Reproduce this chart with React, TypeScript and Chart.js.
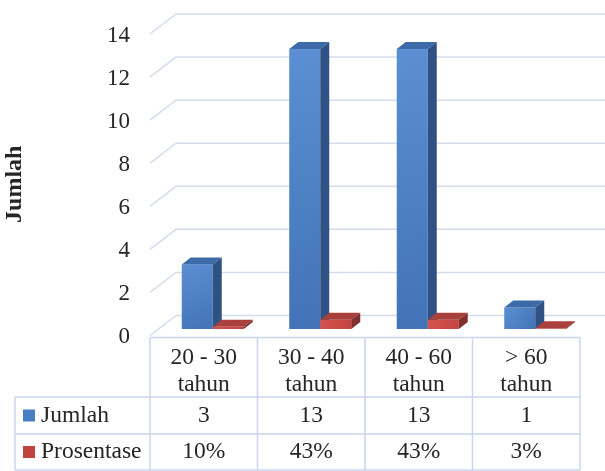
import React, { useEffect, useRef } from "react";
import { Chart, registerables } from "chart.js";

Chart.register(...registerables);

// ---- data ----
const categories: string[][] = [
  ["20 - 30", "tahun"],
  ["30 - 40", "tahun"],
  ["40 - 60", "tahun"],
  ["> 60", "tahun"],
];
const jumlah = [3, 13, 13, 1];
const prosentase = [0.1, 0.43, 0.43, 0.03];
const prosentaseLabels = ["10%", "43%", "43%", "3%"];
const seriesNames = ["Jumlah", "Prosentase"];
const yMin = 0;
const yMax = 14;
const yStep = 2;
const yTitle = "Jumlah";

// ---- style ----
const FONT = '"Liberation Serif", "Times New Roman", serif';
const TEXT = "#262626";
const GRID = "#d3ddef";
const TABLE_LINE = "#c9d6ee";
const FRONT = { dx: -9, dy: 6.5 };
const BACK = { dx: 17, dy: -13.5 };
const DEPTH = { dx: 9, dy: -7 };
const palettes = [
  { light: "#5b8ed2", dark: "#4273b8", top: "#3d6aa8", side: "#2f5183", swatch: "#4a7ec4" },
  { light: "#d65450", dark: "#c4423f", top: "#a9403c", side: "#80302d", swatch: "#c0433f" },
];

const threeD = {
  id: "threeD",
  beforeDatasetsDraw(chart: any) {
    const { ctx, chartArea, scales } = chart;
    const ys = scales.y;
    const L = chartArea.left;
    ctx.save();
    ctx.strokeStyle = GRID;
    ctx.lineWidth = 1.5;
    ys.ticks.forEach((t: any) => {
      const y = ys.getPixelForValue(t.value);
      ctx.beginPath();
      ctx.moveTo(L + FRONT.dx, y + FRONT.dy);
      ctx.lineTo(L + BACK.dx, y + BACK.dy);
      ctx.lineTo(chart.width, y + BACK.dy);
      ctx.stroke();
    });
    // y axis title
    ctx.fillStyle = TEXT;
    ctx.font = `bold 24px ${FONT}`;
    ctx.textAlign = "center";
    ctx.textBaseline = "middle";
    ctx.translate(15, (ys.getPixelForValue(yMin) + ys.getPixelForValue(yMax)) / 2 + 6);
    ctx.rotate(-Math.PI / 2);
    ctx.fillText(yTitle, 0, 0);
    ctx.restore();
  },
  afterDatasetsDraw(chart: any) {
    const { ctx } = chart;
    ctx.save();
    const n = categories.length;
    for (let i = 0; i < n; i++) {
      chart.data.datasets.forEach((_: any, di: number) => {
        const meta = chart.getDatasetMeta(di);
        const el = meta.data[i];
        if (!el) return;
        const p = palettes[di];
        const { x, y, base, width } = el.getProps(["x", "y", "base", "width"], true);
        const l = x - width / 2;
        const r = x + width / 2;
        const top = Math.min(y, base);
        const bot = Math.max(y, base);
        const g = ctx.createLinearGradient(l, top, r, bot);
        g.addColorStop(0, p.light);
        g.addColorStop(1, p.dark);
        ctx.fillStyle = g;
        ctx.fillRect(l, top, width, bot - top);
        ctx.fillStyle = p.top;
        ctx.beginPath();
        ctx.moveTo(l, top);
        ctx.lineTo(l + DEPTH.dx, top + DEPTH.dy);
        ctx.lineTo(r + DEPTH.dx, top + DEPTH.dy);
        ctx.lineTo(r, top);
        ctx.closePath();
        ctx.fill();
        ctx.fillStyle = p.side;
        ctx.beginPath();
        ctx.moveTo(r, top);
        ctx.lineTo(r + DEPTH.dx, top + DEPTH.dy);
        ctx.lineTo(r + DEPTH.dx, bot + DEPTH.dy);
        ctx.lineTo(r, bot);
        ctx.closePath();
        ctx.fill();
      });
    }
    ctx.restore();
  },
  afterDraw(chart: any) {
    const { ctx, chartArea, scales } = chart;
    const xs = scales.x;
    const ys = scales.y;
    const n = categories.length;
    const cw = chartArea.width / n;
    const x0 = chartArea.left + FRONT.dx;
    const xEnd = x0 + n * cw;
    const tableTop = ys.getPixelForValue(0) + FRONT.dy + 2;
    const r1 = 397;
    const r2 = 434;
    const r3 = 470;
    const legendLeft = 15;
    ctx.save();
    ctx.strokeStyle = TABLE_LINE;
    ctx.lineWidth = 1.5;
    ctx.beginPath();
    ctx.moveTo(x0, tableTop);
    ctx.lineTo(xEnd, tableTop);
    [r1, r2, r3].forEach((ry) => {
      ctx.moveTo(legendLeft, ry);
      ctx.lineTo(xEnd, ry);
    });
    for (let i = 0; i <= n; i++) {
      const vx = x0 + i * cw;
      ctx.moveTo(vx, tableTop);
      ctx.lineTo(vx, r3);
    }
    ctx.moveTo(legendLeft, r1);
    ctx.lineTo(legendLeft, r3);
    ctx.stroke();

    ctx.fillStyle = TEXT;
    ctx.font = `23.5px ${FONT}`;
    ctx.textAlign = "center";
    ctx.textBaseline = "middle";
    categories.forEach((lines, i) => {
      const cx = xs.getPixelForValue(i) + FRONT.dx;
      ctx.fillText(lines[0], cx, 358);
      ctx.fillText(lines[1], cx, 385);
      ctx.fillText(String(jumlah[i]), cx, (r1 + r2) / 2);
      ctx.fillText(prosentaseLabels[i], cx, (r2 + r3) / 2);
    });
    const rowsY = [(r1 + r2) / 2, (r2 + r3) / 2];
    ctx.textAlign = "left";
    seriesNames.forEach((name, i) => {
      ctx.fillStyle = palettes[i].swatch;
      ctx.fillRect(23, rowsY[i] - 6, 12, 12);
      ctx.fillStyle = TEXT;
      ctx.fillText(name, 41, rowsY[i]);
    });
    ctx.restore();
  },
};

export default function App() {
  const ref = useRef<HTMLCanvasElement>(null);
  useEffect(() => {
    if (!ref.current) return;
    const chart = new Chart(ref.current, {
      type: "bar",
      data: {
        labels: categories,
        datasets: [
          {
            label: seriesNames[0],
            data: jumlah,
            backgroundColor: "rgba(0,0,0,0)",
            borderWidth: 0,
          },
          {
            label: seriesNames[1],
            data: prosentase,
            backgroundColor: "rgba(0,0,0,0)",
            borderWidth: 0,
          },
        ],
      },
      options: {
        responsive: false,
        animation: false,
        layout: { padding: { top: 27.5, bottom: 142, left: 0, right: 16 } },
        datasets: { bar: { categoryPercentage: 0.577, barPercentage: 1 } },
        plugins: {
          legend: { display: false },
          tooltip: { enabled: false },
        },
        scales: {
          x: {
            display: false,
            grid: { display: false },
          },
          y: {
            min: yMin,
            max: yMax,
            ticks: {
              stepSize: yStep,
              padding: 29,
              labelOffset: 8,
              color: TEXT,
              font: { family: FONT, size: 23 },
            },
            grid: { display: false, drawTicks: false, tickLength: 0 },
            border: { display: false },
            title: { display: false },
            afterFit(scale: any) {
              scale.width = 159;
              scale.paddingTop = 0;
              scale.paddingBottom = 0;
            },
          },
        },
      },
      plugins: [threeD],
    });
    return () => chart.destroy();
  }, []);
  return (
    <div style={{ position: "absolute", left: 0, top: 0, width: 605, height: 471, background: "#fff" }}>
      <canvas ref={ref} width={605} height={471} />
    </div>
  );
}
